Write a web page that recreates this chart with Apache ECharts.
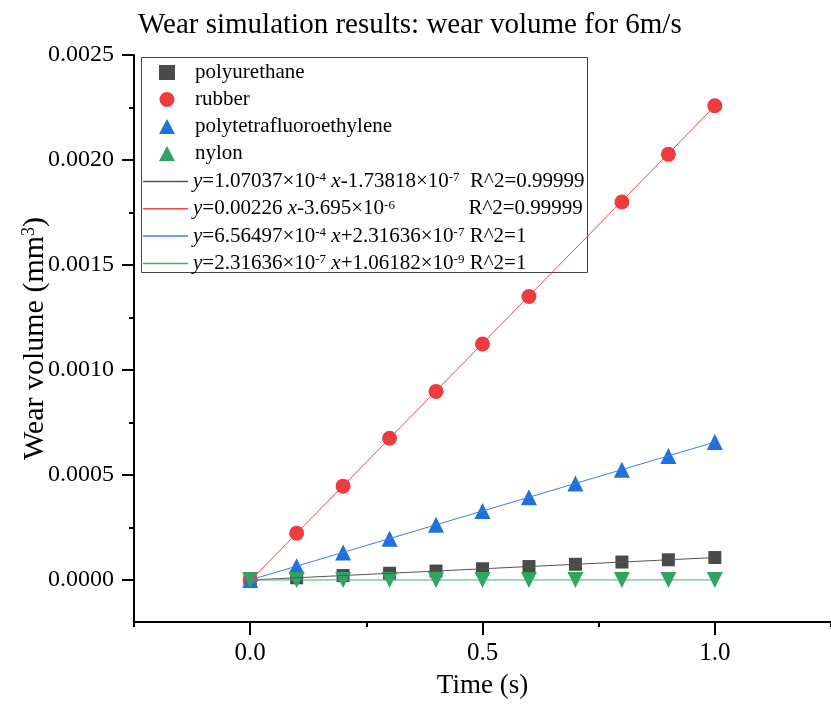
<!DOCTYPE html>
<html>
<head>
<meta charset="utf-8">
<script src="https://cdn.jsdelivr.net/npm/echarts@6/dist/echarts.min.js"></script>
<style>
  html, body { margin: 0; padding: 0; background: #fff; }
  #chart { width: 831px; height: 715px; }
</style>
</head>
<body>
<div id="chart"></div>
<script>
// time points (s)
const times = [0, 0.1, 0.2, 0.3, 0.4, 0.5, 0.6, 0.7, 0.8, 0.9, 1.0];

// wear volume (mm^3)
const polyurethane = [0, 0.0000105, 0.0000212, 0.000032, 0.0000427, 0.0000534, 0.0000641, 0.0000748, 0.0000855, 0.0000962, 0.000107];
const rubber = [0, 0.000223, 0.000447, 0.000675, 0.000898, 0.001124, 0.00135, 0.001578, 0.0018, 0.002027, 0.002258];
const ptfe = [0, 0.0000657, 0.000131, 0.000197, 0.000263, 0.000328, 0.000394, 0.00046, 0.000525, 0.000591, 0.000657];
const nylon = [0, 0.00000002, 0.00000005, 0.00000007, 0.00000009, 0.00000012, 0.00000014, 0.00000016, 0.00000019, 0.00000021, 0.00000023];

// linear fits, end points at x = 0 and x = 1
const fitX = [0, 1];
const fitPolyurethane = [-0.000000174, 0.000106863];
const fitRubber = [-0.000003695, 0.002256305];
const fitPtfe = [0.000000232, 0.000656729];
const fitNylon = [0.000000001, 0.000000233];

// ticks
const xMajor = [0, 0.5, 1.0];
const xMinor = [-0.25, 0.25, 0.75, 1.25];
const yMajor = [0, 0.0005, 0.001, 0.0015, 0.002, 0.0025];
const yMinor = [0.00025, 0.00075, 0.00125, 0.00175, 0.00225];

const fitLabels = {
    fit1: '{i|y}=1.07037×10{s|-4} {i|x}-1.73818×10{s|-7}  R^2=0.99999',
    fit2: '{i|y}=0.00226 {i|x}-3.695×10{s|-6}              R^2=0.99999',
    fit3: '{i|y}=6.56497×10{s|-4} {i|x}+2.31636×10{s|-7} R^2=1',
    fit4: '{i|y}=2.31636×10{s|-7} {i|x}+1.06182×10{s|-9} R^2=1'
};

const FONT = '"Liberation Serif", "Times New Roman", serif';

function pairs(xs, ys) {
    return xs.map((x, i) => [x, ys[i]]);
}

const chart = echarts.init(document.getElementById('chart'));

const richText = {
    i: { fontStyle: 'italic', fontSize: 21, fontFamily: FONT, color: '#000' },
    s: { fontSize: 13, fontFamily: FONT, verticalAlign: 'top', color: '#000', padding: [0, 0, 8, 0] }
};

const option = {
    animation: false,
    backgroundColor: '#fff',
    title: {
        text: 'Wear simulation results: wear volume for 6m/s',
        left: 133,
        top: 6,
        textStyle: { fontFamily: FONT, fontSize: 29, fontWeight: 'normal', color: '#000' }
    },
    graphic: [{
        type: 'rect',
        z: 3,
        shape: { x: 141.5, y: 57.5, width: 446, height: 215 },
        style: { fill: '#fff', stroke: '#444', lineWidth: 1 }
    }],
    legend: [{
        left: 159,
        top: 62,
        orient: 'vertical',
        padding: 0,
        itemWidth: 16,
        itemHeight: 15,
        itemGap: 6,
        z: 5,
        data: ['polyurethane', 'rubber', 'polytetrafluoroethylene', 'nylon'],
        textStyle: { fontFamily: FONT, fontSize: 21, lineHeight: 20, color: '#000', padding: [0, 0, 0, 15] }
    }, {
        left: 143,
        top: 171,
        orient: 'vertical',
        padding: 0,
        icon: 'rect',
        itemWidth: 45,
        itemHeight: 1.5,
        itemGap: 6.3,
        z: 5,
        data: ['fit1', 'fit2', 'fit3', 'fit4'],
        formatter: name => fitLabels[name],
        textStyle: { fontFamily: FONT, fontSize: 21, lineHeight: 20, color: '#000', rich: richText }
    }],
    grid: { left: 134, top: 55, width: 705, bottom: 93, containLabel: false },
    xAxis: [{
        type: 'value',
        min: -0.25,
        max: 1.25,
        name: 'Time (s)',
        nameLocation: 'middle',
        nameGap: 50,
        nameMoveOverlap: false,
        nameTextStyle: { fontFamily: FONT, fontSize: 27, color: '#000' },
        axisLine: { onZero: false, lineStyle: { color: '#000', width: 2 } },
        axisTick: { customValues: xMajor, length: 13, lineStyle: { color: '#000', width: 2 } },
        axisLabel: { customValues: xMajor, formatter: v => v.toFixed(1), fontFamily: FONT, fontSize: 25, color: '#000', margin: 19 },
        splitLine: { show: false }
    }, {
        type: 'value',
        min: -0.25,
        max: 1.25,
        position: 'bottom',
        axisLine: { show: false, onZero: false },
        axisTick: { customValues: xMinor, length: 5, lineStyle: { color: '#000', width: 2 } },
        axisLabel: { show: false },
        splitLine: { show: false }
    }],
    yAxis: [{
        type: 'value',
        min: -0.0002,
        max: 0.0025,
        name: 'Wear volume (mm{s|3})',
        nameLocation: 'middle',
        nameGap: 84,
        nameMoveOverlap: false,
        nameTextStyle: {
            fontFamily: FONT, fontSize: 30, color: '#000',
            rich: { s: { fontFamily: FONT, fontSize: 18, verticalAlign: 'top', color: '#000', padding: [0, 0, 12, 0] } }
        },
        axisLine: { onZero: false, lineStyle: { color: '#000', width: 2 } },
        axisTick: { customValues: yMajor, length: 12, lineStyle: { color: '#000', width: 2 } },
        axisLabel: { customValues: yMajor, formatter: v => v.toFixed(4), fontFamily: FONT, fontSize: 24, color: '#000', margin: 20 },
        splitLine: { show: false }
    }, {
        type: 'value',
        min: -0.0002,
        max: 0.0025,
        position: 'left',
        axisLine: { show: false, onZero: false },
        axisTick: { customValues: yMinor, length: 5, lineStyle: { color: '#000', width: 2 } },
        axisLabel: { show: false },
        splitLine: { show: false }
    }],
    series: [
        { name: 'fit1', type: 'line', symbol: 'none', data: pairs(fitX, fitPolyurethane), lineStyle: { color: '#555', width: 1 }, itemStyle: { color: '#555' } },
        { name: 'fit2', type: 'line', symbol: 'none', data: pairs(fitX, fitRubber), lineStyle: { color: '#f04646', width: 1 }, itemStyle: { color: '#f04646' } },
        { name: 'fit3', type: 'line', symbol: 'none', data: pairs(fitX, fitPtfe), lineStyle: { color: '#3a7fe6', width: 1 }, itemStyle: { color: '#3a7fe6' } },
        { name: 'fit4', type: 'line', symbol: 'none', data: pairs(fitX, fitNylon), lineStyle: { color: '#3cb06a', width: 1 }, itemStyle: { color: '#3cb06a' } },
        { name: 'polyurethane', type: 'scatter', symbol: 'rect', symbolSize: 13, data: pairs(times, polyurethane), itemStyle: { color: '#4a4a4a', opacity: 1 } },
        { name: 'rubber', type: 'scatter', symbol: 'circle', symbolSize: 15, data: pairs(times, rubber), itemStyle: { color: '#ef3a3e', opacity: 1 } },
        { name: 'polytetrafluoroethylene', type: 'scatter', symbol: 'triangle', symbolSize: 16, data: pairs(times, ptfe), itemStyle: { color: '#1f6fdc', opacity: 1 } },
        { name: 'nylon', type: 'scatter', symbol: 'triangle', symbolRotate: 180, symbolSize: 16, data: pairs(times, nylon), itemStyle: { color: '#2fa463', opacity: 1 } }
    ]
};

chart.setOption(option);
</script>
</body>
</html>
